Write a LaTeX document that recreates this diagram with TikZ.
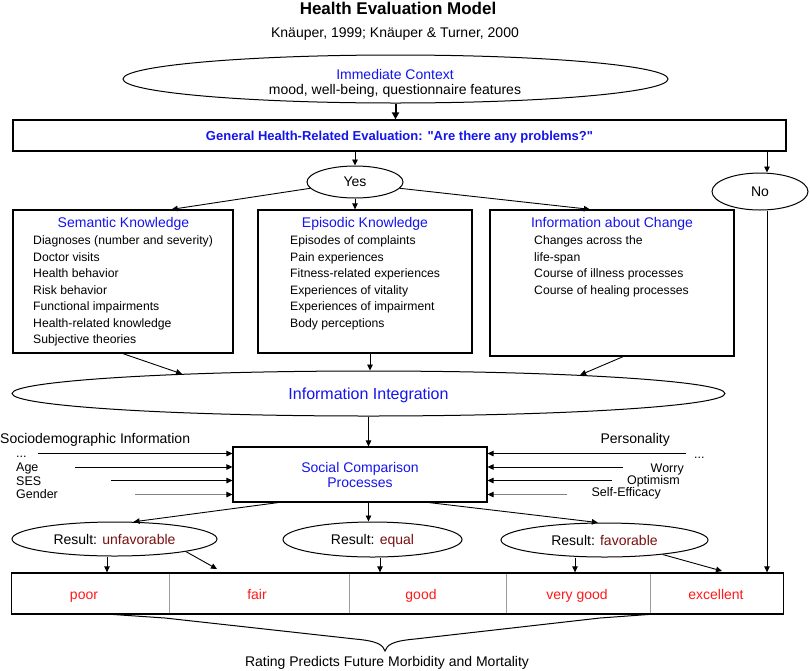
\documentclass[tikz,border=0pt]{standalone}
\usepackage{fontspec}
\setmainfont{Liberation Sans}[Ligatures=TeXOff]
\usetikzlibrary{arrows.meta,shapes.geometric,calc}
\definecolor{cblue}{RGB}{20,20,235}
\definecolor{cdred}{RGB}{120,15,15}
\definecolor{cred}{RGB}{255,25,25}
\definecolor{cgray}{RGB}{130,130,130}
\begin{document}
\begin{tikzpicture}[x=1pt,y=-1pt,
  box/.style={draw, line width=1.3pt, rectangle, inner sep=0pt},
  ell/.style={draw, line width=1pt, ellipse, inner sep=0pt, text depth=0pt},
  arr/.style={line width=0.9pt, -{Triangle[length=6pt,width=5.5pt]}},
  grayarr/.style={line width=0.9pt, draw=cgray, -{Triangle[length=6pt,width=5.5pt,color=black,fill=black]}},
  thickarr/.style={line width=2pt, -{Triangle[length=7pt,width=7pt]}},
  ftxt/.style={font=\fontsize{14}{15}\selectfont, inner sep=0pt},
  ftitle/.style={font=\fontsize{14}{15}\selectfont, text=cblue, inner sep=0pt},
  fitem/.style={font=\fontsize{12.2}{14}\selectfont, inner sep=0pt, anchor=base west},
  fsm/.style={font=\fontsize{12.5}{14}\selectfont, inner sep=0pt},
  frate/.style={font=\fontsize{14}{15}\selectfont, text=cred, inner sep=0pt, anchor=base}
]
\useasboundingbox (0,0) rectangle (810,670);

% title
\node[font=\bfseries\fontsize{17}{20}\selectfont, inner sep=0pt, anchor=base] (title) at (398,14.5) {Health Evaluation Model};
\node[ftxt, anchor=base] (cite) at (395,37) {Knäuper, 1999; Knäuper \& Turner, 2000};

% immediate context
\node[ell, minimum width=545pt, minimum height=48pt] (ctx) at (395.5,79) {};
\node[ftitle, anchor=base] (ctxa) at (395,79) {Immediate Context};
\node[ftxt, anchor=base] (ctxb) at (395,94) {mood, well-being, questionnaire features};

% general evaluation
\node[box, minimum width=773pt, minimum height=31pt, text depth=0pt, font=\bfseries\fontsize{13}{14}\selectfont, text=cblue] (gen) at (399.5,135.5) {General Health-Related Evaluation: "Are there any problems?"};

% yes / no
\node[ell, minimum width=96pt, minimum height=32pt, ftxt] (yes) at (355,182) {Yes};
\node[ell, minimum width=96pt, minimum height=37pt, ftxt] (no) at (760,191.5) {No};

% three knowledge boxes
\node[box, minimum width=220pt, minimum height=143pt] (sem) at (123,281.5) {};
\node[box, minimum width=214pt, minimum height=143pt] (epi) at (365,281.5) {};
\node[box, minimum width=244pt, minimum height=146pt] (chg) at (612,283) {};
\node[ftitle, anchor=base] (semt) at (123.5,227) {Semantic Knowledge};
\node[ftitle, anchor=base] (epit) at (365,227) {Episodic Knowledge};
\node[ftitle, anchor=base] (chgt) at (612,227) {Information about Change};
\foreach \t [count=\i] in {Diagnoses (number and severity), Doctor visits, Health behavior, Risk behavior, Functional impairments, Health-related knowledge, Subjective theories}
  \node[fitem] (semi\i) at ({33},{244.5+16.55*(\i-1)}) {\t};
\foreach \t [count=\i] in {Episodes of complaints, Pain experiences, Fitness-related experiences, Experiences of vitality, Experiences of impairment, Body perceptions}
  \node[fitem] (epii\i) at ({290},{244.5+16.55*(\i-1)}) {\t};
\foreach \t [count=\i] in {Changes across the, life-span, Course of illness processes, Course of healing processes}
  \node[fitem] (chgi\i) at ({534},{244.5+16.55*(\i-1)}) {\t};

% information integration
\node[ell, minimum width=713pt, minimum height=45pt, font=\fontsize{16}{18}\selectfont, text=cblue] (integ) at (368.5,393.5) {Information Integration};

% social comparison
\node[box, line width=1.1pt, minimum width=254pt, minimum height=55pt, align=center, ftitle] (soc) at (360,474.5) {Social Comparison\\Processes};

% sociodemographic side
\node[ftxt, anchor=base west] (socio) at (0,443) {Sociodemographic Information};
\node[fsm, anchor=base west] (ldots) at (16,457) {...};
\node[fsm, anchor=base west] (age) at (16,471) {Age};
\node[fsm, anchor=base west] (ses) at (16,485) {SES};
\node[fsm, anchor=base west] (gender) at (16,498) {Gender};
\coordinate (la1) at (38,453.5);
\coordinate (la2) at (75,467);
\coordinate (la3) at (111,480.5);
\coordinate (la4) at (135,494.5);
\draw[arr] (la1) -- (la1 -| soc.west);
\draw[arr] (la2) -- (la2 -| soc.west);
\draw[arr] (la3) -- (la3 -| soc.west);
\draw[grayarr] (la4) -- (la4 -| soc.west);

% personality side
\node[ftxt, anchor=base east] (pers) at (670,443) {Personality};
\node[fsm, anchor=base west] (rdots) at (694,458) {...};
\node[fsm, anchor=base east] (worry) at (684,472) {Worry};
\node[fsm, anchor=base east] (optim) at (680,484.5) {Optimism};
\node[fsm, anchor=base east] (selfe) at (661,496.5) {Self-Efficacy};
\coordinate (ra1) at (686,453.5);
\coordinate (ra2) at (623,467);
\coordinate (ra3) at (612,480.5);
\coordinate (ra4) at (567,494.5);
\draw[arr] (ra1) -- (ra1 -| soc.east);
\draw[arr] (ra2) -- (ra2 -| soc.east);
\draw[arr] (ra3) -- (ra3 -| soc.east);
\draw[grayarr] (ra4) -- (ra4 -| soc.east);

% results
\node[ell, minimum width=205pt, minimum height=34pt, ftxt] (unf) at (114.5,539) {Result: \textcolor{cdred}{unfavorable}};
\node[ell, minimum width=179pt, minimum height=35pt, ftxt] (equal) at (372.5,539.5) {Result: \textcolor{cdred}{equal}};
\node[ell, minimum width=207pt, minimum height=34pt, ftxt] (fav) at (604.5,540) {Result: \textcolor{cdred}{favorable}};

% rating scale
\foreach \x in {169,349,506,650}
  \draw[cgray!80, line width=1pt] (\x,574) -- (\x,613);
\node[box, minimum width=772pt, minimum height=41pt] (rate) at (397.5,593.5) {};
\node[frate] (poor) at (84,599) {poor};
\node[frate] (fair) at (257,599) {fair};
\node[frate] (good) at (421,599) {good};
\node[frate] (vgood) at (577,599) {very good};
\node[frate] (exc) at (716,599) {excellent};

% brace and conclusion
\draw[line width=1pt] (106,614) -- (165,618) -- (355,639) .. controls (378,641) and (383,645) .. (385,651)
  .. controls (387,645) and (392,641) .. (415,639) -- (600,618) -- (655,614);
\node[ftxt, anchor=base] (pred) at (387,666) {Rating Predicts Future Morbidity and Mortality};

% connectors
\coordinate (xno) at (767,0);
\coordinate (xm) at (370,0);
\draw[thickarr] (ctx.south) -- (ctx.south |- gen.north);
\draw[arr] (gen.south -| yes.north) -- (yes.north);
\draw[arr] (gen.south -| xno) -- (no.north -| xno);
\draw[arr] (no.south -| xno) -- (rate.north -| xno);
\draw[arr] (yes.188) -- ($(sem.north west)!0.72!(sem.north east)$);
\draw[arr] (yes.south) -- (yes.south |- epi.north);
\draw[arr] (yes.-8) -- ($(chg.north west)!0.41!(chg.north east)$);
\draw[arr] (sem.south) -- (integ.174.2);
\draw[arr] (epi.south -| xm) -- (integ.north -| xm);
\draw[arr] ($(chg.south west)!0.545!(chg.south east)$) -- (integ.5);
\draw[arr] (integ.south) -- (integ.south |- soc.north);
\draw[arr] ($(soc.south west)!0.18!(soc.south east)$) -- (unf.42);
\draw[arr] (soc.south -| integ.south) -- (equal.north -| integ.south);
\draw[arr] ($(soc.south west)!0.77!(soc.south east)$) -- (fav.111);
\coordinate (xu) at (107,0);
\coordinate (du) at (217,569);
\coordinate (xe) at (380,0);
\coordinate (xf) at (575,0);
\coordinate (df) at (722,571);
\draw[arr] (unf.south -| xu) -- (rate.north -| xu);
\draw[arr] (unf.-10) -- (du);
\draw[arr] (equal.south -| xe) -- (rate.north -| xe);
\draw[arr] (fav.south -| xf) -- (rate.north -| xf);
\draw[arr] (fav.-14.5) -- (df);
\end{tikzpicture}
\end{document}
